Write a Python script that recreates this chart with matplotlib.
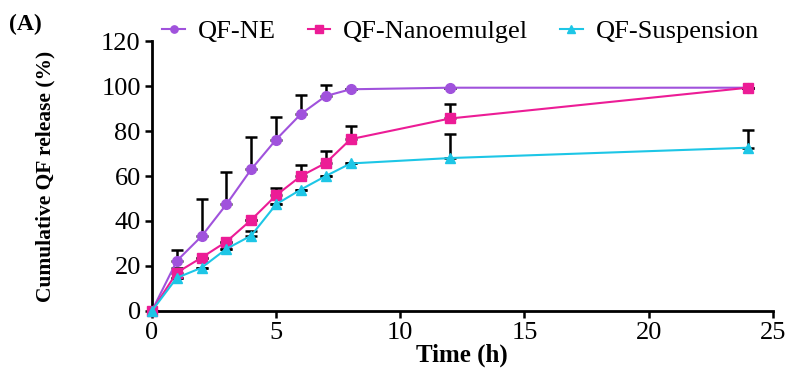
import numpy as np
import matplotlib.pyplot as plt

plt.rcParams['font.family'] = ['Liberation Serif', 'DejaVu Serif']

# Temps (h)
t = [0, 1, 2, 3, 4, 5, 6, 7, 8, 12, 24]

# Libération cumulée (%) et écart-type (barre haute seulement)
ne = [0, 22.2, 33.2, 47.4, 63, 76.2, 87.6, 95.6, 98.6, 99.3, 99.3]
ne_err = [0, 4.7, 16.8, 14.3, 14.5, 10.2, 8.6, 4.8, 0, 0, 0]

nano = [0, 17, 23.7, 30.8, 40.5, 51.4, 60, 65.8, 76.4, 85.6, 99.3]
nano_err = [0, 2, 0, 0, 0, 3.1, 5, 5.2, 5.8, 6.4, 0]

susp = [0, 14.7, 19.2, 27.6, 33.5, 47.4, 54, 60, 65.6, 68, 72.6]
susp_err = [0, 0, 0, 0, 1.9, 0, 0, 0, 0, 10.5, 8]

fig = plt.figure(figsize=(7.87, 3.71), dpi=100)
ax = fig.add_axes([0.193, 0.162, 0.789, 0.727])

series = [
    (ne, ne_err, '#A052DC', 'o', 'QF-NE'),
    (nano, nano_err, '#EC1C96', 's', 'QF-Nanoemulgel'),
    (susp, susp_err, '#1DC6E6', '^', 'QF-Suspension'),
]

for y, e, c, m, lab in series:
    # barres d'erreur (vers le haut uniquement)
    yerr = [np.zeros(len(e)), e]
    ax.errorbar(t, y, yerr=yerr, fmt='none', ecolor='black', elinewidth=1.8,
                capsize=4, capthick=1.8, zorder=2)
    ax.plot(t, y, color=c, marker=m, markersize=7, linewidth=1.5, label=lab,
            zorder=3, clip_on=False)

ax.set_xlim(0, 25)
ax.set_ylim(0, 120)
ax.set_xticks(range(0, 26, 5))
ax.set_yticks(range(0, 121, 20))
ax.spines['top'].set_visible(False)
ax.spines['right'].set_visible(False)
ax.spines['left'].set_linewidth(2)
ax.spines['bottom'].set_linewidth(2)
ax.tick_params(width=1.8, length=5, labelsize=19, pad=3)

ax.set_xlabel('Time (h)', fontsize=18, fontweight='bold', labelpad=0)
ax.set_ylabel('Cumulative QF release (%)', fontsize=15.5, fontweight='bold')
ax.yaxis.set_label_coords(-0.155, 0.5)

ax.legend(loc='center left', bbox_to_anchor=(0.0, 1.035), ncol=3, frameon=False,
          fontsize=19, handlelength=0.85, columnspacing=1.2, handletextpad=0.5,
          markerscale=0.75, borderaxespad=0)

fig.text(0.012, 0.92, '(A)', fontsize=17, fontweight='bold')

fig.savefig('out.png', dpi=100)
